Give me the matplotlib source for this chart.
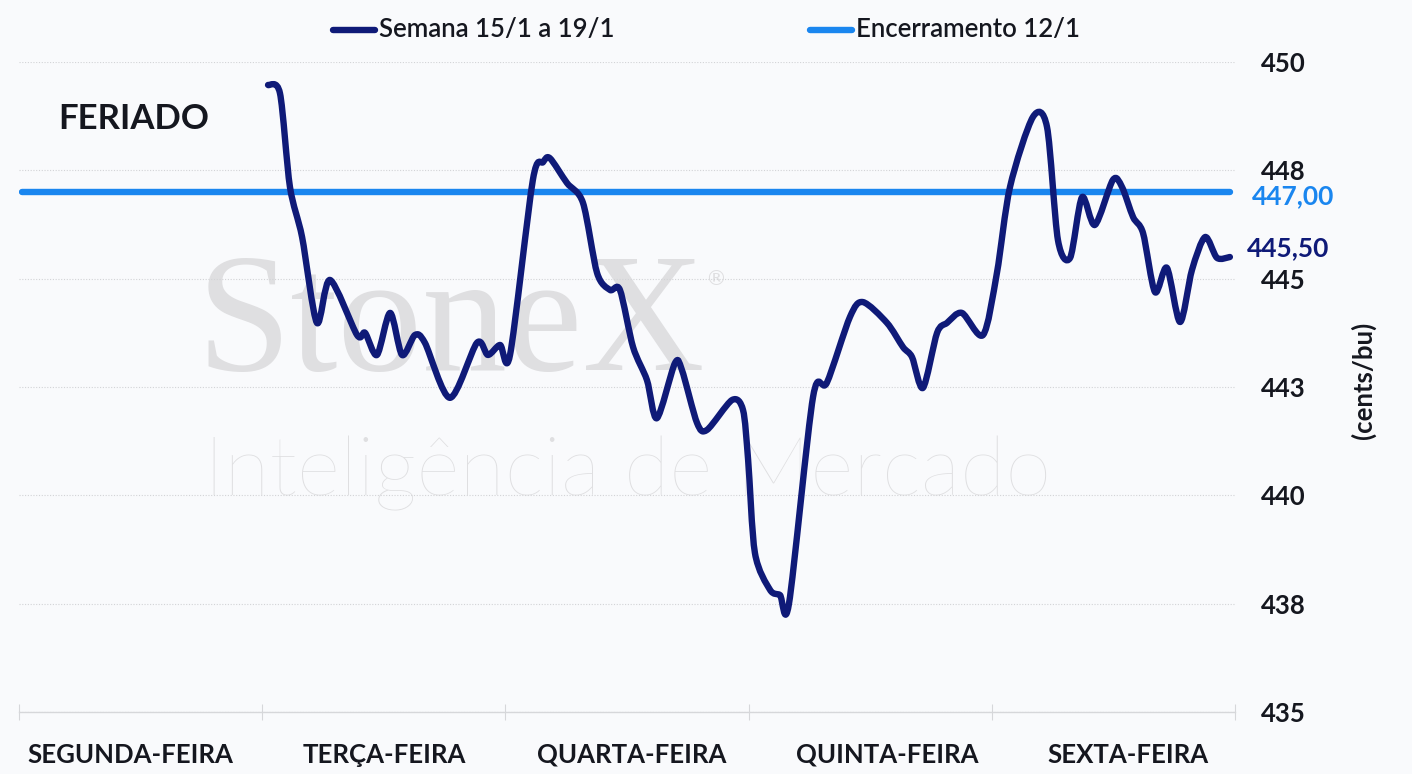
import matplotlib
matplotlib.use("Agg")
import matplotlib.pyplot as plt
from matplotlib.lines import Line2D
from matplotlib.path import Path
from matplotlib.patches import PathPatch

# days on x: 0 = start of monday, 5 = end of friday
days = ["SEGUNDA-FEIRA", "TERÇA-FEIRA", "QUARTA-FEIRA", "QUINTA-FEIRA", "SEXTA-FEIRA"]
day_label_pos = [0.458, 1.503, 2.521, 3.571, 4.558]

semana_x = [1.024, 1.073, 1.114, 1.164, 1.225, 1.279, 1.390, 1.423, 1.472, 1.526,
            1.575, 1.628, 1.669, 1.772, 1.883, 1.928, 1.978, 2.019, 2.113, 2.155,
            2.183, 2.253, 2.319, 2.377, 2.430, 2.471, 2.525, 2.582, 2.623, 2.697,
            2.726, 2.788, 2.829, 2.932, 2.977, 2.998, 3.026, 3.088, 3.129, 3.166,
            3.265, 3.322, 3.417, 3.470, 3.569, 3.635, 3.672, 3.717, 3.775, 3.816,
            3.877, 3.964, 4.021, 4.075, 4.169, 4.227, 4.272, 4.322, 4.371, 4.424,
            4.498, 4.535, 4.581, 4.622, 4.671, 4.720, 4.774, 4.823, 4.877, 4.926,
            4.979]
semana_y = [449.47, 449.28, 447.12, 445.96, 443.98, 444.97, 443.70, 443.75, 443.24, 444.21,
            443.24, 443.70, 443.52, 442.25, 443.52, 443.24, 443.47, 443.24, 447.28, 447.69,
            447.78, 447.21, 446.75, 445.13, 444.74, 444.74, 443.42, 442.66, 441.78, 443.05,
            442.89, 441.67, 441.51, 442.20, 441.97, 440.82, 438.67, 437.82, 437.70, 437.50,
            442.27, 442.60, 444.12, 444.46, 443.98, 443.42, 443.19, 442.48, 443.75, 443.98,
            444.21, 443.70, 445.13, 447.12, 448.73, 448.50, 445.89, 445.48, 446.88, 446.24,
            447.28, 447.12, 446.42, 446.05, 444.69, 445.25, 444.00, 445.20, 445.96, 445.48,
            445.50]

encerramento = 447.00
ultimo = 445.50

yticks = [435, 437.5, 440, 442.5, 445, 447.5, 450]
ytick_labels = ["435", "438", "440", "443", "445", "448", "450"]

navy = "#0f1a78"
blue = "#1a86ef"
txt = "#15171f"
bg = "#f9fafc"
wm = "#dfdfe1"


def smooth_path(xs, ys, k=7.0):
    # catmull-rom style curve through the points, drawn as bezier curves
    pts = list(zip(xs, ys))
    verts = [pts[0]]
    codes = [Path.MOVETO]
    n = len(pts)
    for i in range(n - 1):
        p0 = pts[max(i - 1, 0)]
        p1 = pts[i]
        p2 = pts[i + 1]
        p3 = pts[min(i + 2, n - 1)]
        c1 = (p1[0] + (p2[0] - p0[0]) / k, p1[1] + (p2[1] - p0[1]) / k)
        c2 = (p2[0] - (p3[0] - p1[0]) / k, p2[1] - (p3[1] - p1[1]) / k)
        verts += [c1, c2, p2]
        codes += [Path.CURVE4] * 3
    return Path(verts, codes)


plt.rcParams["font.family"] = ["Lato", "DejaVu Sans"]

fig = plt.figure(figsize=(14.12, 7.74), dpi=100, facecolor=bg)
ax = fig.add_axes([19/1412, 1-712/774, (1235-19)/1412, 650/774])
ax.set_facecolor(bg)

# watermark
ax.text(0.73, 442.9, "StoneX", family="Liberation Serif", fontsize=122,
        color=wm, va="baseline", ha="left", zorder=0)
ax.text(2.82, 444.85, "®", family="DejaVu Sans", fontsize=15, color=wm, zorder=0)
ax.text(0.76, 440.0, "Inteligência de Mercado", fontsize=60, fontweight="light",
        color=wm, va="baseline", ha="left", zorder=0)

ax.plot([0.012, 4.98], [encerramento, encerramento], color=blue, lw=4.6,
        solid_capstyle="round", zorder=3)
ax.add_patch(PathPatch(smooth_path(semana_x, semana_y), fill=False, edgecolor=navy,
                       lw=4.6, capstyle="round", joinstyle="round", zorder=4))

ax.set_xlim(0, 5)
ax.set_ylim(435, 450)

ax.set_yticks(yticks)
ax.set_yticklabels(ytick_labels)
ax.yaxis.tick_right()
ax.tick_params(axis="y", length=0, pad=19, labelsize=18.5, labelcolor=txt)
for t in ax.get_yticklabels():
    t.set_fontweight("bold")
ax.grid(axis="y", color="#d2d3d6", lw=0.8, ls=(0, (1, 1.5)), zorder=1)

ax.set_xticks(range(6))
ax.set_xticklabels([])
ax.set_xticks(day_label_pos, minor=True)
ax.set_xticklabels(days, minor=True)
ax.tick_params(axis="x", which="major", direction="inout", length=12, width=0.8,
               color="#d6d7da")
ax.tick_params(axis="x", which="minor", length=0, pad=22, labelsize=18.5, labelcolor=txt)
for t in ax.get_xticklabels(minor=True):
    t.set_fontweight("bold")

for s in ["top", "left", "right"]:
    ax.spines[s].set_visible(False)
ax.spines["bottom"].set_color("#d6d7da")
ax.spines["bottom"].set_linewidth(1.0)

# labels at the right
ax.text(5.24, encerramento - 0.1, "447,00", color=blue, fontsize=19, fontweight="bold",
        ha="center", va="center", clip_on=False)
ax.text(5.22, ultimo + 0.2, "445,50", color=navy, fontsize=19, fontweight="bold",
        ha="center", va="center", clip_on=False)
fig.text(1363/1412, 1-380/774, "(cents/bu)", rotation=90, fontsize=18.5, fontweight="bold",
         color=txt, ha="center", va="center")

ax.text(0.16, 448.68, "FERIADO", fontsize=25, fontweight="bold", color=txt,
        ha="left", va="center")

# legend drawn by hand on top
leg = [("Semana 15/1 a 19/1", navy, 333), ("Encerramento 12/1", blue, 810)]
for label, col, x0 in leg:
    fig.add_artist(Line2D([x0/1412, (x0+42)/1412], [1-30/774, 1-30/774], color=col,
                          lw=4.6, solid_capstyle="round"))
    fig.text((x0+46)/1412, 1-30/774, label, fontsize=18.5, fontweight="semibold",
             color=txt, ha="left", va="center")

fig.savefig("out.png", dpi=100, facecolor=bg)
